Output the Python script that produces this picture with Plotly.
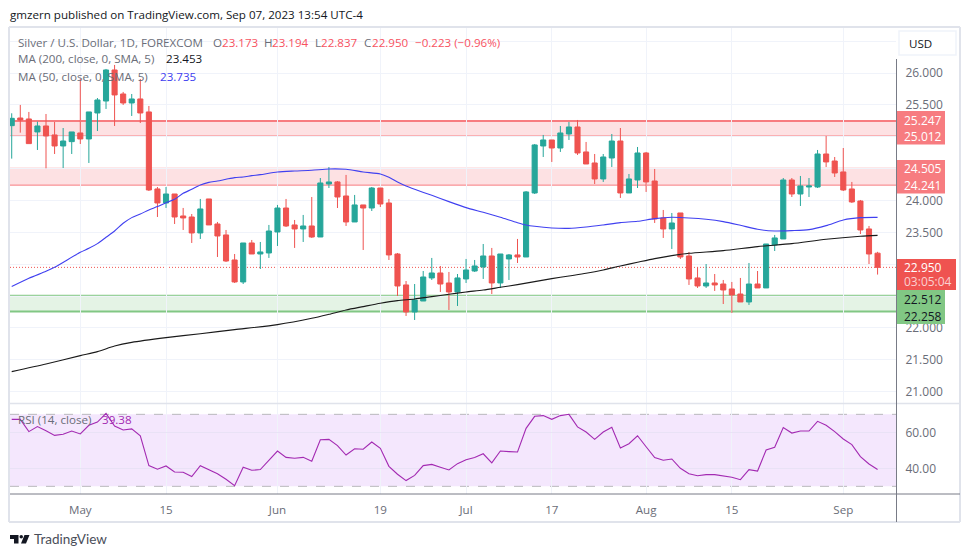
import plotly.graph_objects as go

W = 970
H = 557
FONT = "Open Sans"
FSIZE = 11.6

# daily bars (index = trading day)
opens = [25.175, 25.295, 25.280, 25.076, 25.170, 25.029, 24.856, 24.924, 25.060, 24.966,
         25.374, 25.562, 26.049, 25.672, 25.531, 25.594, 25.390, 24.181, 23.961, 24.102,
         23.757, 23.741, 23.490, 24.024, 23.631, 23.459, 23.066, 22.721, 23.333, 23.160,
         23.176, 23.506, 23.882, 23.616, 23.553, 23.600, 23.427, 24.259, 24.291, 24.071,
         23.663, 23.930, 23.882, 24.196, 23.961, 23.160, 22.674, 22.250, 22.422, 22.784,
         22.862, 22.705, 22.564, 22.768, 22.893, 22.956, 23.129, 22.705, 23.082, 23.145,
         23.113, 24.118, 24.856, 24.950, 24.824, 25.044, 25.154, 24.762, 24.589, 24.338,
         24.667, 24.934, 24.118, 24.322, 24.746, 24.306, 23.726, 23.553, 23.804, 23.129,
         22.784, 22.658, 22.705, 22.689, 22.611, 22.532, 22.407, 22.689, 22.627, 23.302,
         23.396, 24.322, 24.102, 24.212, 24.212, 24.730, 24.620, 24.448, 24.181, 23.992,
         23.553, 23.173]
highs = [25.369, 25.500, 25.390, 25.238, 25.358, 25.233, 25.138, 25.076, 25.908, 25.390,
         25.609, 26.065, 26.128, 25.704, 25.672, 25.908, 25.484, 24.212, 24.212, 24.102,
         23.883, 23.788, 24.024, 24.024, 23.663, 23.537, 23.160, 23.333, 23.380, 23.349,
         23.616, 23.930, 24.024, 23.694, 23.773, 24.055, 24.353, 24.526, 24.306, 24.401,
         24.087, 23.930, 24.212, 24.196, 24.024, 23.176, 22.736, 22.689, 22.893, 23.098,
         22.972, 22.878, 22.846, 23.082, 23.066, 23.317, 23.255, 23.160, 23.160, 23.396,
         24.149, 24.887, 25.029, 24.950, 25.170, 25.233, 25.264, 24.919, 24.730, 24.730,
         25.044, 25.138, 24.416, 24.840, 24.762, 24.495, 23.851, 23.804, 23.804, 23.192,
         22.956, 23.003, 22.846, 22.752, 22.721, 22.784, 23.019, 22.893, 23.317, 23.459,
         24.353, 24.353, 24.385, 24.353, 24.793, 25.013, 24.683, 24.824, 24.291, 24.008,
         23.600, 23.194]
lows = [24.657, 25.065, 24.893, 24.793, 24.505, 24.730, 24.510, 24.730, 24.887, 24.589,
        25.091, 25.437, 25.170, 25.500, 25.327, 25.217, 24.149, 23.741, 23.883, 23.631,
        23.537, 23.333, 23.396, 23.616, 23.113, 23.035, 22.705, 22.689, 23.160, 22.925,
        23.098, 23.286, 23.584, 23.255, 23.349, 23.412, 23.427, 24.196, 23.882, 23.600,
        23.663, 23.223, 23.835, 23.898, 23.066, 22.501, 22.187, 22.124, 22.422, 22.752,
        22.564, 22.281, 22.344, 22.705, 22.878, 22.768, 22.532, 22.627, 22.752, 23.019,
        23.113, 24.102, 24.683, 24.605, 24.762, 24.950, 24.715, 24.573, 24.259, 24.291,
        24.526, 24.040, 24.118, 24.196, 24.134, 23.647, 23.412, 23.239, 23.082, 22.674,
        22.627, 22.627, 22.580, 22.375, 22.234, 22.407, 22.360, 22.627, 22.627, 23.207,
        23.396, 24.055, 23.914, 24.055, 24.196, 24.526, 24.369, 24.149, 23.961, 23.474,
        23.003, 22.837]
closes = [25.290, 25.264, 24.893, 25.170, 25.013, 24.856, 24.934, 25.076, 24.966, 25.390,
          25.578, 26.049, 25.657, 25.531, 25.594, 25.374, 24.165, 23.961, 24.102, 23.741,
          23.726, 23.490, 23.867, 23.616, 23.443, 23.050, 22.721, 23.333, 23.160, 23.192,
          23.521, 23.882, 23.600, 23.553, 23.600, 23.427, 24.275, 24.291, 24.055, 23.663,
          23.930, 23.882, 24.196, 23.945, 23.145, 22.658, 22.250, 22.438, 22.799, 22.862,
          22.689, 22.564, 22.784, 22.909, 22.972, 23.129, 22.705, 23.160, 23.145, 23.113,
          24.134, 24.872, 24.950, 24.824, 25.060, 25.154, 24.746, 24.573, 24.338, 24.683,
          24.934, 24.118, 24.338, 24.746, 24.291, 23.710, 23.553, 23.647, 23.113, 22.768,
          22.658, 22.705, 22.674, 22.595, 22.517, 22.407, 22.689, 22.627, 23.317, 23.412,
          24.322, 24.102, 24.228, 24.228, 24.730, 24.605, 24.432, 24.165, 23.977, 23.537,
          23.160, 22.950]
days = list(range(len(closes)))

ma50_days = [0, 2, 4, 5, 8, 9, 10, 11, 12, 13, 14, 15, 16, 17, 18, 19, 20, 21, 22, 23, 24, 25, 26, 27, 28, 29,
             31, 33, 35, 37, 39, 41, 43, 44, 45, 46, 47, 49, 51, 53, 55, 57, 59, 60, 61, 63, 65, 67, 69, 71,
             73, 75, 77, 79, 81, 83, 85, 87, 89, 91, 93, 95, 97, 99, 101]
ma50 = [22.648, 22.778, 22.888, 22.951, 23.187, 23.249, 23.323, 23.422, 23.521, 23.642, 23.731, 23.788, 23.851,
        23.904, 23.966, 24.019, 24.113, 24.176, 24.244, 24.285, 24.306, 24.333, 24.359, 24.369, 24.390, 24.406,
        24.448, 24.463, 24.474, 24.495, 24.490, 24.448, 24.416, 24.364, 24.291, 24.228, 24.176, 24.081, 23.982,
        23.888, 23.814, 23.736, 23.652, 23.616, 23.595, 23.569, 23.563, 23.584, 23.616, 23.652, 23.673, 23.715,
        23.736, 23.726, 23.705, 23.668, 23.610, 23.548, 23.521, 23.527, 23.542, 23.605, 23.694, 23.731, 23.735]

ma200_days = [0, 4, 8, 10, 12, 14, 18, 22, 26, 31, 35, 37, 39, 41, 43, 45, 47, 49, 51, 53, 55, 57, 59, 61, 63,
              65, 67, 69, 71, 73, 75, 77, 79, 83, 87, 91, 95, 99, 101]
ma200 = [21.313, 21.433, 21.564, 21.627, 21.716, 21.773, 21.847, 21.909, 21.972, 22.051, 22.150, 22.213, 22.281,
         22.334, 22.386, 22.428, 22.454, 22.491, 22.527, 22.564, 22.595, 22.637, 22.679, 22.726, 22.773, 22.815,
         22.857, 22.909, 22.972, 23.030, 23.087, 23.134, 23.171, 23.213, 23.276, 23.323, 23.391, 23.438, 23.453]

rsi = [67.2, 67.2, 60.4, 63.2, 60.9, 58.3, 58.9, 60.7, 59.1, 63.9, 65.7, 70.5, 63.5, 61.3, 61.9, 58.1, 41.5, 39.5,
       41.3, 38.0, 37.8, 35.4, 41.5, 39.1, 37.0, 33.9, 30.4, 40.6, 38.9, 39.3, 44.3, 49.6, 46.1, 45.6, 46.1, 43.9,
       55.9, 56.1, 52.6, 47.4, 50.9, 50.6, 54.6, 51.1, 41.1, 36.7, 33.2, 36.1, 41.5, 42.2, 40.6, 39.1, 42.6, 44.8,
       46.0, 48.1, 43.0, 49.6, 49.3, 49.1, 62.2, 68.9, 69.3, 67.2, 69.3, 70.0, 63.0, 60.2, 56.1, 60.2, 62.8, 51.3,
       53.7, 58.1, 52.0, 46.0, 44.5, 45.2, 40.0, 37.0, 35.9, 36.5, 36.5, 35.7, 35.0, 33.7, 39.3, 38.5, 50.2, 51.7,
       62.6, 59.6, 60.7, 60.7, 66.1, 63.9, 60.4, 56.3, 53.2, 46.5, 42.4, 39.38]

tick_days = [8, 18, 31, 43, 53, 63, 74, 84, 97]
tick_labels = ["May", "15", "Jun", "19", "Jul", "17", "Aug", "15", "Sep"]

# every gridline level; the ones behind a price tag or the USD button carry no label
price_ticks = [21.0, 21.5, 22.0, 22.5, 23.0, 23.5, 24.0, 24.5, 25.0, 25.5, 26.0, 26.5]
price_labels = ["21.000", "21.500", "22.000", "", "", "23.500", "24.000", "", "", "25.500", "26.000", ""]

red_zones = [(25.012, 25.247), (24.241, 24.505)]
green_zone = (22.258, 22.512)
last_close = 22.950

GREEN = "#26a69a"
RED = "#ef5350"
ZONE_RED = "#f77c80"
ZONE_GREEN = "#81c784"
GRID = "#f0f3fa"
BORDER = "#e0e3eb"
AXIS = "#787b86"
TEXT = "#6a6d78"
BLUE = "#4040f0"
PURPLE = "#a32ab2"


def fx(px):
    return px / W


def fy(px):
    return 1 - px / H


fig = go.Figure()
fig.add_trace(go.Candlestick(
    x=days, open=opens, high=highs, low=lows, close=closes,
    increasing=dict(line=dict(color=GREEN, width=1), fillcolor=GREEN),
    decreasing=dict(line=dict(color=RED, width=1), fillcolor=RED),
    whiskerwidth=0,
))
fig.add_trace(go.Scatter(x=ma50_days, y=ma50, mode="lines",
                         line=dict(color=BLUE, width=1.1, shape="spline", smoothing=0.7)))
fig.add_trace(go.Scatter(x=ma200_days, y=ma200, mode="lines",
                         line=dict(color="#1a1a1a", width=1.1, shape="spline", smoothing=0.7)))
fig.add_trace(go.Scatter(x=days, y=rsi, mode="lines", line=dict(color=PURPLE, width=1.1), xaxis="x2", yaxis="y2"))

shapes = []


def hline(y, color, width, dash="solid", xref="x domain", yref="y"):
    shapes.append(dict(type="line", xref=xref, yref=yref, x0=0, x1=1, y0=y, y1=y, layer="below",
                       line=dict(color=color, width=width, dash=dash)))


def panel_line(x0, y0, x1, y1, color, width):
    shapes.append(dict(type="line", xref="paper", yref="paper", x0=fx(x0), x1=fx(x1), y0=fy(y0), y1=fy(y1),
                       layer="above", line=dict(color=color, width=width)))


def tag(x0, y0, x1, y1, color):
    shapes.append(dict(type="rect", xref="paper", yref="paper", x0=fx(x0), x1=fx(x1), y0=fy(y0), y1=fy(y1),
                       layer="above", fillcolor=color, line=dict(width=0)))


# support / resistance zones
for low, high in red_zones:
    shapes.append(dict(type="rect", xref="x domain", yref="y", x0=0, x1=1, y0=low, y1=high, layer="below",
                       fillcolor="rgba(242,54,69,0.15)", line=dict(width=0)))
    hline(low, ZONE_RED, 1)
hline(red_zones[0][1], ZONE_RED, 2)
hline(red_zones[1][1], ZONE_RED, 1)
shapes.append(dict(type="rect", xref="x domain", yref="y", x0=0, x1=1, y0=green_zone[0], y1=green_zone[1],
                   layer="below", fillcolor="rgba(76,175,80,0.15)", line=dict(width=0)))
hline(green_zone[0], ZONE_GREEN, 2)
hline(green_zone[1], ZONE_GREEN, 1)
hline(last_close, RED, 1, dash="1px,2px")

# RSI band
shapes.append(dict(type="rect", xref="x2 domain", yref="y2", x0=0, x1=1, y0=30, y1=70, layer="below",
                   fillcolor="rgba(186,104,240,0.16)", line=dict(width=0)))
hline(70, "#b8b8bc", 1, dash="dash", xref="x2 domain", yref="y2")
hline(30, "#b8b8bc", 1, dash="dash", xref="x2 domain", yref="y2")

# frame
panel_line(9, 27, 960, 27, BORDER, 2)
panel_line(9, 27, 9, 522, BORDER, 2)
panel_line(960, 27, 960, 522, BORDER, 2)
panel_line(9, 522, 960, 522, BORDER, 2)
panel_line(10, 403.5, 960, 403.5, BORDER, 1.5)
panel_line(10, 494, 960, 494, AXIS, 1)
panel_line(896.5, 59, 896.5, 522, AXIS, 1)

# price tags
tag(897, 111, 945, 144.5, ZONE_RED)
tag(897, 160, 945, 193.5, ZONE_RED)
tag(897, 259, 956, 290, RED)
tag(897, 290, 945, 324, ZONE_GREEN)

# USD button
shapes.append(dict(type="rect", xref="paper", yref="paper", x0=fx(899), x1=fx(956), y0=fy(31), y1=fy(55),
                   layer="above", fillcolor="white", line=dict(color=GRID, width=1.5)))

# TradingView logo
shapes.append(dict(type="path", xref="paper", yref="paper", layer="above", fillcolor="#131722", line=dict(width=0),
                   path="M{} {} L{} {} L{} {} L{} {} L{} {} L{} {} Z".format(
                       fx(10), fy(535), fx(18.5), fy(535), fx(18.5), fy(543.5), fx(14), fy(543.5),
                       fx(14), fy(539), fx(10), fy(539))))
shapes.append(dict(type="circle", xref="paper", yref="paper", layer="above", fillcolor="#131722", line=dict(width=0),
                   x0=fx(19.5), x1=fx(23), y0=fy(535), y1=fy(538.5)))
shapes.append(dict(type="path", xref="paper", yref="paper", layer="above", fillcolor="#131722", line=dict(width=0),
                   path="M{} {} L{} {} L{} {} L{} {} Z".format(
                       fx(24.5), fy(535), fx(29.5), fy(535), fx(26), fy(543.5), fx(21), fy(543.5))))

annotations = []


def label(x, y, text, color=TEXT, size=FSIZE, family=FONT):
    annotations.append(dict(xref="paper", yref="paper", x=fx(x), y=fy(y), text=text, showarrow=False,
                            xanchor="left", yanchor="middle", font=dict(family=family, size=size, color=color),
                            borderpad=0, borderwidth=0))


HEAD_RED = "#f7525f"
label(10, 15, "gmzern published on TradingView.com, Sep 07, 2023 13:54 UTC-4", "#131722")
label(18, 42, "Silver / U.S. Dollar, 1D, FOREXCOM")
label(213, 42, "O")
label(221.5, 42, "23.173", HEAD_RED)
label(264, 42, "H")
label(272, 42, "23.194", HEAD_RED)
label(315, 42, "L")
label(321, 42, "22.837", HEAD_RED)
label(364, 42, "C")
label(372, 42, "22.950", HEAD_RED)
label(415, 42, "\u22120.223 (\u22120.96%)", HEAD_RED)
label(18, 59, "MA (200, close, 0, SMA, 5)")
label(166, 59, "23.453", "#131722")
label(18, 76, "MA (50, close, 0, SMA, 5)")
label(160, 76, "23.735", BLUE)
label(18, 419, "RSI (14, close)")
label(102, 419, "39.38", PURPLE)
label(909, 43, "USD", "#131722")
label(34, 539, "TradingView", "#4a4e59", size=13.5, family="Lato")
label(904, 120, "25.247", "white", size=12)
label(904, 136.5, "25.012", "white", size=12)
label(904, 168.5, "24.505", "white", size=12)
label(904, 185.5, "24.241", "white", size=12)
label(904, 267.5, "22.950", "white", size=12)
label(904, 282, "03:05:04", "#fbd0d0", size=12)
label(904, 299, "22.512", "#131722", size=12)
label(904, 316, "22.258", "#131722", size=12)

fig.update_layout(
    width=W,
    height=H,
    margin=dict(l=0, r=0, t=0, b=0),
    paper_bgcolor="white",
    plot_bgcolor="white",
    showlegend=False,
    boxgap=0.15,
    font=dict(family=FONT, size=12, color=TEXT),
    shapes=shapes,
    annotations=annotations,
    xaxis=dict(domain=[fx(10), fx(896)], range=[-0.2, 103.15], anchor="y", tickvals=tick_days,
               showticklabels=False, showgrid=True, gridcolor=GRID, zeroline=False, rangeslider=dict(visible=False),
               fixedrange=True),
    xaxis2=dict(domain=[fx(10), fx(896)], range=[-0.2, 103.15], anchor="y2", tickvals=tick_days,
                ticktext=tick_labels, showgrid=True, gridcolor=GRID, zeroline=False, ticks="outside", ticklen=5,
                tickcolor="rgba(0,0,0,0)", tickfont=dict(family=FONT, size=FSIZE, color=TEXT)),
    yaxis=dict(domain=[fy(404), fy(28)], range=[20.805, 26.708], side="right", tickvals=price_ticks,
               ticktext=price_labels, showgrid=True, gridcolor=GRID, zeroline=False, anchor="x", ticks="outside",
               ticklen=6, tickcolor="rgba(0,0,0,0)", tickfont=dict(family=FONT, size=12, color=TEXT)),
    yaxis2=dict(domain=[fy(494), fy(404)], range=[25.74, 75.74], side="right", tickvals=[40, 60],
                tickformat=".2f", showgrid=True, gridcolor="#e9e2f6", zeroline=False, anchor="x2", ticks="outside",
                ticklen=6, tickcolor="rgba(0,0,0,0)", tickfont=dict(family=FONT, size=12, color=TEXT)),
)

fig.write_html("out.html", config=dict(displayModeBar=False),
               post_script="document.body.style.margin='0';document.body.style.overflow='hidden';")
